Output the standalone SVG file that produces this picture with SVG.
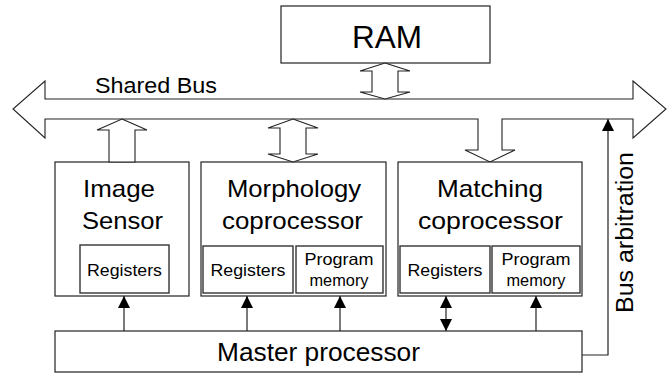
<svg xmlns="http://www.w3.org/2000/svg" width="670" height="377" viewBox="0 0 670 377">
<defs>
<style>
.box{fill:#fff;stroke:#222;stroke-width:1.2}
.ibox{fill:#fff;stroke:#333;stroke-width:1.4}
.blk{fill:#fff;stroke:#222;stroke-width:1.1;stroke-linejoin:miter}
.ln{fill:none;stroke:#222;stroke-width:1.2}
text{font-family:"Liberation Sans",Arial,Helvetica,sans-serif;fill:#000}
.big{font-size:24px;text-anchor:middle}
.sm{font-size:16.5px;text-anchor:middle}
</style>
<marker id="ah" markerUnits="userSpaceOnUse" markerWidth="12" markerHeight="12" refX="11" refY="5.5" orient="auto-start-reverse" viewBox="0 0 11 11">
<path d="M0,0 L11,5.5 L0,11 Z" fill="#000"/>
</marker>
</defs>

<g id="ram">
<rect class="box" x="281" y="6" width="209" height="57"/>
<text x="387" y="48" font-size="32" text-anchor="middle" textLength="70" lengthAdjust="spacingAndGlyphs">RAM</text>
</g>

<g id="shared-bus">
<path class="blk" d="M45,99 L45,81 L13,109 L45,138 L45,119 L478,119 L478,150 L465,150 L490,162 L515,150 L502,150 L502,119 L633,119 L633,138 L666,109 L633,81 L633,99 Z"/>
<text x="95" y="93" font-size="21.5" textLength="122" lengthAdjust="spacingAndGlyphs">Shared Bus</text>
</g>

<g id="image-sensor">
<rect class="box" x="55" y="162" width="134" height="134"/>
<text class="big" x="119" y="197" textLength="72" lengthAdjust="spacingAndGlyphs">Image</text>
<text class="big" x="122.5" y="229" textLength="81" lengthAdjust="spacingAndGlyphs">Sensor</text>
<g id="image-sensor-registers">
<rect class="ibox" x="80" y="245" width="89" height="48"/>
<text class="sm" x="124.5" y="276" textLength="75" lengthAdjust="spacingAndGlyphs">Registers</text>
</g>
</g>

<g id="morphology">
<rect class="box" x="201" y="162" width="185" height="134"/>
<text class="big" x="294" y="197" textLength="134" lengthAdjust="spacingAndGlyphs">Morphology</text>
<text class="big" x="292.5" y="229" textLength="141" lengthAdjust="spacingAndGlyphs">coprocessor</text>
<g id="morphology-registers">
<rect class="ibox" x="203" y="246" width="90" height="47"/>
<text class="sm" x="248" y="276" textLength="75" lengthAdjust="spacingAndGlyphs">Registers</text>
</g>
<g id="morphology-program-memory">
<rect class="ibox" x="296" y="246" width="87" height="47"/>
<text class="sm" x="339" y="265" textLength="69" lengthAdjust="spacingAndGlyphs">Program</text>
<text class="sm" x="339" y="286" textLength="59" lengthAdjust="spacingAndGlyphs">memory</text>
</g>
</g>

<g id="matching">
<rect class="box" x="398" y="162" width="184" height="134"/>
<text class="big" x="490" y="197" textLength="106" lengthAdjust="spacingAndGlyphs">Matching</text>
<text class="big" x="490.5" y="229" textLength="145" lengthAdjust="spacingAndGlyphs">coprocessor</text>
<g id="matching-registers">
<rect class="ibox" x="400" y="246" width="90" height="47"/>
<text class="sm" x="445" y="276" textLength="75" lengthAdjust="spacingAndGlyphs">Registers</text>
</g>
<g id="matching-program-memory">
<rect class="ibox" x="492" y="246" width="88" height="47"/>
<text class="sm" x="536" y="265" textLength="69" lengthAdjust="spacingAndGlyphs">Program</text>
<text class="sm" x="536" y="286" textLength="59" lengthAdjust="spacingAndGlyphs">memory</text>
</g>
</g>

<g id="master-processor">
<rect class="box" x="55" y="331" width="527" height="41"/>
<text x="318.5" y="361" font-size="25" text-anchor="middle" textLength="203" lengthAdjust="spacingAndGlyphs">Master processor</text>
</g>

<g id="connectors">
<path id="ram-bus" class="blk" d="M385,63 L410,71 L398,71 L398,92 L410,92 L385,99 L360,92 L372,92 L372,71 L360,71 Z"/>
<path id="sensor-bus" class="blk" d="M122,119 L147,130 L135,130 L135,162 L109,162 L109,130 L97,130 Z"/>
<path id="morph-bus" class="blk" d="M293,119 L318,128 L306,128 L306,154 L318,154 L293,162 L268,154 L280,154 L280,128 L268,128 Z"/>
<line class="ln" x1="124" y1="331" x2="124" y2="296" marker-end="url(#ah)"/>
<line class="ln" x1="247" y1="331" x2="247" y2="296" marker-end="url(#ah)"/>
<line class="ln" x1="340" y1="331" x2="340" y2="296" marker-end="url(#ah)"/>
<line class="ln" x1="446" y1="331" x2="446" y2="296" marker-start="url(#ah)" marker-end="url(#ah)"/>
<line class="ln" x1="536" y1="331" x2="536" y2="296" marker-end="url(#ah)"/>
<polyline class="ln" points="582,355 608,355 608,119" marker-end="url(#ah)"/>
<text x="633" y="232.5" font-size="23.5" text-anchor="middle" transform="rotate(-90 633 232.5)" textLength="161" lengthAdjust="spacingAndGlyphs">Bus arbitration</text>
</g>
</svg>
